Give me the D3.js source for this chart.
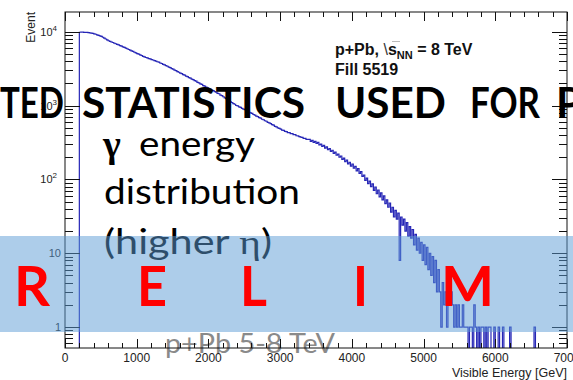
<!DOCTYPE html>
<html>
<head>
<meta charset="utf-8">
<script src="https://cdn.jsdelivr.net/npm/d3@7"></script>
<style>
  html, body { margin: 0; padding: 0; background: #fff; }
  svg { display: block; }
</style>
</head>
<body>
<svg id="chart" width="573" height="380"></svg>
<script>
// Histogram binning (GeV)
const binLow = 200;
const binWidth = 20;

// Entries per 20 GeV bin, 200 GeV .. 6640 GeV (one row = 200 GeV)
const counts = [
  9880, 9930, 9910, 9870, 9850, 9820, 9760, 9700, 9610, 9530,   // 200
  9420, 9290, 9110, 8990, 8820, 8710, 8460, 8250, 8010, 7810,   // 400
  7580, 7460, 7290, 7180, 7020, 6910, 6770, 6650, 6510, 6400,   // 600
  6260, 6160, 6010, 5910, 5770, 5670, 5530, 5430, 5300, 5210,   // 800
  5080, 5000, 4880, 4790, 4670, 4590, 4500, 4440, 4350, 4300,   // 1000
  4210, 4160, 4070, 4020, 3940, 3890, 3790, 3730, 3630, 3580,   // 1200
  3480, 3420, 3320, 3270, 3170, 3120, 3030, 2980, 2890, 2840,   // 1400
  2760, 2720, 2630, 2590, 2510, 2480, 2400, 2360, 2290, 2250,   // 1600
  2180, 2150, 2070, 2040, 1970, 1940, 1870, 1840, 1780, 1750,   // 1800
  1690, 1670, 1610, 1600, 1550, 1530, 1470, 1450, 1390, 1370,   // 2000
  1322, 1279, 1244, 1196, 1173, 1126, 1104, 1066, 1045, 1006,   // 2200
  993, 962, 948, 921, 896, 884, 851, 838, 812, 797,             // 2400
  786, 759, 745, 720, 711, 688, 677, 655, 645, 625,             // 2600
  615, 594, 584, 571, 552, 545, 525, 517, 499, 493,             // 2800
  481, 467, 464, 449, 446, 431, 430, 418, 417, 404,             // 3000
  404, 391, 390, 380, 374, 372, 361, 360, 350, 349,             // 3200
  350, 329, 339, 318, 329, 309, 318, 294, 302, 281,             // 3400
  289, 266, 276, 253, 262, 240, 249, 226, 234, 213,             // 3600
  221, 200, 208, 187, 195, 175, 183, 163, 171, 152,             // 3800
  162, 142, 150, 131, 140, 121, 128, 110, 115, 97,              // 4000
  104, 88, 95, 80, 87, 71, 79, 64, 72, 58,                      // 4200
  66, 53, 60, 47, 53, 42, 48, 36, 42, 31,                       // 4400
  38, 29, 35, 8, 31, 24, 29, 20, 26, 17,                        // 4600
  23, 16, 21, 13, 18, 11, 16, 10, 14, 8,                        // 4800
  13, 7, 12, 6, 10, 5, 9, 4, 8, 3,                              // 5000
  6, 3, 1, 4, 2, 3, 1, 4, 2, 3,                                 // 5200
  2, 1, 2, 1, 2, 1, 1, 2, 1, 1,                                 // 5400
  1, 0, 1, 1, 0, 2, 1, 0, 1, 0,                                 // 5600
  1, 1, 0, 1, 0, 1, 1, 0, 0, 1,                                 // 5800
  0, 0, 1, 0, 0, 1, 0, 0, 0, 0,                                 // 6000
  1, 0, 0, 0, 0, 0, 0, 0, 0, 0,                                 // 6200
  0, 0, 0, 0, 0, 0, 0, 1, 0, 0,                                 // 6400
  0, 0                                                          // 6600
];

// Axis ticks and labels
const xMajorTicks = [0, 1000, 2000, 3000, 4000, 5000, 6000, 7000];
const xMinorStep = 200;
const yDecades = [1, 10, 100, 1000, 10000];
const yDecadeLabels = [
  { base: "1", exp: "" },
  { base: "10", exp: "" },
  { base: "10", exp: "2" },
  { base: "10", exp: "3" },
  { base: "10", exp: "4" }
];
const xTitle = "Visible Energy [GeV]";
const yTitle = "Event";
const xDomain = [0, 7000];
const yDomain = [0.52, 18600];

// Slide overlay texts
const headerWords = ["TED", "STATISTICS", "USED", "FOR", "P"];
const noteLines = ["energy", "distribution", "(higher ", ")"];
const stampLetters = ["R", "E", "L", "I", "M"];
const footer = "p+Pb 5-8 TeV";

const svg = d3.select("#chart");
const W = 573, H = 380;
const frame = { left: 65, right: 567, top: 12, bottom: 348 };

svg.append("rect").attr("width", W).attr("height", H).attr("fill", "#fff");

// Footer label sits beneath the plot layer
svg.append("text")
  .attr("x", 165).attr("y", 353)
  .attr("textLength", 170).attr("lengthAdjust", "spacingAndGlyphs")
  .style("font-family", "Lato, 'Open Sans', sans-serif")
  .style("font-size", "27px")
  .attr("fill", "#8a8a8a")
  .text(footer);

const x = d3.scaleLinear().domain(xDomain).range([frame.left, frame.right]);
const y = d3.scaleLog().domain(yDomain).range([frame.bottom, frame.top]);

const plot = svg.append("g");
const axisFont = "'Liberation Sans', Arial, Helvetica, sans-serif";

svg.append("defs").append("clipPath").attr("id", "frameClip")
  .append("rect")
  .attr("x", frame.left).attr("y", frame.top)
  .attr("width", frame.right - frame.left).attr("height", frame.bottom - frame.top);

// Histogram as a step outline
const pts = [{ e: binLow, v: 0 }];
counts.forEach((c, i) => pts.push({ e: binLow + i * binWidth, v: c }));
pts.push({ e: binLow + counts.length * binWidth, v: 0 });

const yv = v => (v > 0 ? y(v) : frame.bottom + 2);
const stepLine = d3.line()
  .x(d => x(d.e))
  .y(d => yv(d.v))
  .curve(d3.curveStepAfter);

plot.append("path")
  .attr("clip-path", "url(#frameClip)")
  .attr("d", stepLine(pts))
  .attr("fill", "none")
  .attr("stroke", "#2626b6")
  .attr("stroke-width", 1.2);

// Frame
plot.append("rect")
  .attr("x", frame.left).attr("y", frame.top)
  .attr("width", frame.right - frame.left).attr("height", frame.bottom - frame.top)
  .attr("fill", "none").attr("stroke", "#111").attr("stroke-width", 1);

// X ticks (bottom and mirrored on top), drawn inward
const xMinor = d3.range(xDomain[0], xDomain[1] + 1, xMinorStep);
const xt = plot.append("g").attr("stroke", "#111").attr("stroke-width", 1);
xMinor.forEach(v => {
  const major = xMajorTicks.includes(v);
  const len = major ? 9 : 5;
  const px = Math.round(x(v)) + 0.5;
  xt.append("line").attr("x1", px).attr("x2", px)
    .attr("y1", frame.bottom).attr("y2", frame.bottom - len);
  xt.append("line").attr("x1", px).attr("x2", px)
    .attr("y1", frame.top).attr("y2", frame.top + len);
});

plot.append("g").selectAll("text").data(xMajorTicks).join("text")
  .attr("x", d => x(d)).attr("y", 362)
  .attr("text-anchor", "middle")
  .style("font-family", axisFont).style("font-size", "12px")
  .attr("fill", "#222")
  .text(d => d);

plot.append("text")
  .attr("x", frame.right).attr("y", 377)
  .attr("text-anchor", "end")
  .style("font-family", axisFont).style("font-size", "12.5px")
  .attr("fill", "#222")
  .text(xTitle);

// Y log ticks (left and mirrored on right)
const yt = plot.append("g").attr("stroke", "#111").attr("stroke-width", 1);
const yTickVals = [];
[0.1, 1, 10, 100, 1000, 10000].forEach(dec => {
  for (let m = 1; m <= 9; m++) {
    const v = dec * m;
    if (v >= yDomain[0] && v <= yDomain[1]) yTickVals.push({ v, major: m === 1 });
  }
});
yTickVals.forEach(t => {
  const len = t.major ? 15 : 8;
  const py = Math.round(y(t.v)) + 0.5;
  yt.append("line").attr("x1", frame.left).attr("x2", frame.left + len)
    .attr("y1", py).attr("y2", py);
  yt.append("line").attr("x1", frame.right).attr("x2", frame.right - len)
    .attr("y1", py).attr("y2", py);
});

const yl = plot.append("g");
yDecades.forEach((v, i) => {
  const lab = yDecadeLabels[i];
  const t = yl.append("text")
    .attr("x", lab.exp ? 57 : 61).attr("y", y(v) + 4)
    .attr("text-anchor", "end")
    .style("font-family", axisFont).style("font-size", "11px")
    .attr("fill", "#222");
  t.append("tspan").text(lab.base);
  if (lab.exp) {
    t.append("tspan").attr("dy", -5).style("font-size", "8px").text(lab.exp);
  }
});

plot.append("text")
  .attr("transform", "translate(35,12) rotate(-90)")
  .attr("text-anchor", "end")
  .style("font-family", axisFont).style("font-size", "12px")
  .attr("fill", "#222")
  .text(yTitle);

// Run annotation
const ann = plot.append("g")
  .style("font-family", axisFont).style("font-weight", "bold")
  .attr("fill", "#111");
const a1 = ann.append("text").attr("x", 335).attr("y", 55).style("font-size", "16px");
a1.append("tspan").text("p+Pb,  ");
a1.append("tspan").style("font-weight", "normal").attr("fill", "#333").text("\\");
a1.append("tspan").text("s");
a1.append("tspan").attr("dy", 4).style("font-size", "11px").text("NN");
a1.append("tspan").attr("dy", -4).text(" = 8 TeV");
ann.append("line")
  .attr("x1", 392).attr("x2", 400).attr("y1", 41.5).attr("y2", 41.5)
  .attr("stroke", "#bbb").attr("stroke-width", 1);
ann.append("text").attr("x", 335).attr("y", 75).style("font-size", "16px").text("Fill 5519");

// Slide text layer
const slideFont = "Lato, 'Open Sans', sans-serif";
const header = svg.append("g")
  .style("font-family", slideFont).style("font-weight", "bold").style("font-size", "42px")
  .attr("fill", "#000");
const headerPos = [
  { x: 0, w: 64 }, { x: 82, w: 223 }, { x: 335, w: 111 }, { x: 470, w: 70 }, { x: 556, w: 0 }
];
headerWords.forEach((wd, i) => {
  const t = header.append("text").attr("x", headerPos[i].x).attr("y", 118).text(wd);
  if (headerPos[i].w) t.attr("textLength", headerPos[i].w).attr("lengthAdjust", "spacingAndGlyphs");
});

const note = svg.append("g")
  .style("font-family", slideFont).style("font-size", "34px").attr("fill", "#000");
note.append("text").attr("x", 103).attr("y", 157)
  .style("font-family", "'Liberation Serif', 'DejaVu Serif', serif").style("font-size", "38px")
  .style("font-weight", "bold")
  .text("\u03B3");
note.append("text").attr("x", 139).attr("y", 156)
  .attr("textLength", 116).attr("lengthAdjust", "spacingAndGlyphs")
  .text(noteLines[0]);
note.append("text").attr("x", 104).attr("y", 204)
  .attr("textLength", 196).attr("lengthAdjust", "spacingAndGlyphs")
  .text(noteLines[1]);
const l3 = note.append("text").attr("x", 104).attr("y", 254)
  .attr("textLength", 168).attr("lengthAdjust", "spacingAndGlyphs");
l3.append("tspan").text(noteLines[2]);
l3.append("tspan").style("font-family", "'Liberation Serif', 'DejaVu Serif', serif").text("\u03B7");
l3.append("tspan").text(noteLines[3]);

// Translucent band
svg.append("rect")
  .attr("x", 0).attr("y", 236).attr("width", W).attr("height", 96)
  .attr("fill", "#5B9BD5").attr("fill-opacity", 0.5);

// Stamp letters
const stampPos = [
  { x: 14, w: 36 }, { x: 137, w: 30 }, { x: 240, w: 27 }, { x: 353, w: 15 }, { x: 441, w: 53 }
];
svg.append("g")
  .style("font-family", slideFont).style("font-weight", "bold").style("font-size", "56px")
  .attr("fill", "#ff0000")
  .selectAll("text").data(stampLetters).join("text")
  .attr("x", (d, i) => stampPos[i].x).attr("y", 306)
  .attr("textLength", (d, i) => stampPos[i].w).attr("lengthAdjust", "spacingAndGlyphs")
  .text(d => d);
</script>
</body>
</html>
